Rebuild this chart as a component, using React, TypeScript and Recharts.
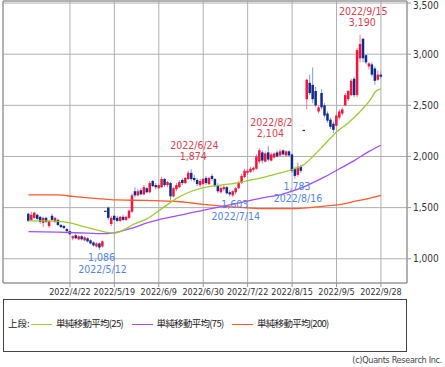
import { ComposedChart, Bar, Line, XAxis, YAxis, CartesianGrid, ReferenceDot, ReferenceArea } from "recharts"

const dates = [
  "2022/4/4", "2022/4/5", "2022/4/6", "2022/4/7", "2022/4/8", "2022/4/11", "2022/4/12", "2022/4/13", "2022/4/14", "2022/4/15",
  "2022/4/18", "2022/4/19", "2022/4/20", "2022/4/21", "2022/4/22", "2022/4/25", "2022/4/26", "2022/4/27", "2022/4/28", "2022/5/2",
  "2022/5/6", "2022/5/9", "2022/5/10", "2022/5/11", "2022/5/12", "2022/5/13", "2022/5/16", "2022/5/17", "2022/5/18", "2022/5/19",
  "2022/5/20", "2022/5/23", "2022/5/24", "2022/5/25", "2022/5/26", "2022/5/27", "2022/5/30", "2022/5/31", "2022/6/1", "2022/6/2",
  "2022/6/3", "2022/6/6", "2022/6/7", "2022/6/8", "2022/6/9", "2022/6/10", "2022/6/13", "2022/6/14", "2022/6/15", "2022/6/16",
  "2022/6/17", "2022/6/20", "2022/6/21", "2022/6/22", "2022/6/23", "2022/6/24", "2022/6/27", "2022/6/28", "2022/6/29", "2022/6/30",
  "2022/7/1", "2022/7/4", "2022/7/5", "2022/7/6", "2022/7/7", "2022/7/8", "2022/7/11", "2022/7/12", "2022/7/13", "2022/7/14",
  "2022/7/15", "2022/7/19", "2022/7/20", "2022/7/21", "2022/7/22", "2022/7/25", "2022/7/26", "2022/7/27", "2022/7/28", "2022/7/29",
  "2022/8/1", "2022/8/2", "2022/8/3", "2022/8/4", "2022/8/5", "2022/8/8", "2022/8/9", "2022/8/10", "2022/8/12", "2022/8/15",
  "2022/8/16", "2022/8/17", "2022/8/18", "2022/8/19", "2022/8/22", "2022/8/23", "2022/8/24", "2022/8/25", "2022/8/26", "2022/8/29",
  "2022/8/30", "2022/8/31", "2022/9/1", "2022/9/2", "2022/9/5", "2022/9/6", "2022/9/7", "2022/9/8", "2022/9/9", "2022/9/12",
  "2022/9/13", "2022/9/14", "2022/9/15", "2022/9/16", "2022/9/20", "2022/9/21", "2022/9/22", "2022/9/26", "2022/9/27", "2022/9/28",
]

const opens = [
  1440, 1380, 1400, 1430, 1410, 1350, 1400, 1320, 1420, 1360,
  1380, 1330, 1320, 1290, 1270, 1200, 1230, 1190, 1220, 1180,
  1200, 1180, 1160, 1120, 1150, 1120, 1470, 1500, 1340, 1420,
  1400, 1370, 1410, 1380, 1400, 1460, 1660, 1620, 1670, 1630,
  1690, 1650, 1760, 1720, 1690, 1700, 1780, 1720, 1740, 1610,
  1680, 1700, 1770, 1740, 1780, 1840, 1790, 1770, 1720, 1730,
  1790, 1730, 1810, 1780, 1720, 1650, 1680, 1700, 1650, 1620,
  1650, 1690, 1740, 1800, 1840, 1850, 1870, 1880, 1950, 2040,
  1950, 2040, 1960, 1990, 2040, 2010, 2060, 2010, 2050, 2020,
  1880, 1820, 1900, 2260, 2560, 2720, 2700, 2640, 2440, 2620,
  2500, 2420, 2360, 2320, 2300, 2380, 2420, 2500, 2560, 2600,
  2760, 2600, 2960, 3150, 2990, 2880, 2900, 2860, 2750, 2800,
]
const highs = [
  1450, 1460, 1460, 1440, 1420, 1410, 1410, 1380, 1440, 1410,
  1390, 1340, 1330, 1300, 1280, 1230, 1240, 1230, 1230, 1220,
  1210, 1190, 1170, 1160, 1160, 1180, 1470, 1510, 1420, 1430,
  1420, 1420, 1430, 1420, 1480, 1640, 1700, 1680, 1690, 1720,
  1700, 1760, 1770, 1740, 1730, 1800, 1790, 1760, 1750, 1700,
  1740, 1770, 1790, 1800, 1860, 1874, 1820, 1790, 1780, 1790,
  1810, 1800, 1830, 1790, 1740, 1710, 1720, 1710, 1670, 1670,
  1700, 1760, 1830, 1880, 1880, 1900, 1900, 2020, 2080, 2060,
  2050, 2104, 2040, 2040, 2060, 2070, 2070, 2060, 2060, 2030,
  1900, 1940, 1920, 2260, 2760, 2800, 2870, 2680, 2500, 2660,
  2520, 2440, 2380, 2340, 2420, 2460, 2480, 2620, 2650, 2760,
  2780, 3060, 3190, 3160, 3000, 2920, 2920, 2880, 2840, 2830,
]
const lows = [
  1360, 1370, 1390, 1380, 1340, 1310, 1350, 1300, 1370, 1350,
  1320, 1300, 1290, 1260, 1230, 1180, 1190, 1180, 1180, 1170,
  1160, 1140, 1120, 1110, 1086, 1110, 1470, 1380, 1320, 1370,
  1360, 1360, 1370, 1370, 1390, 1450, 1600, 1610, 1620, 1620,
  1640, 1640, 1700, 1680, 1680, 1690, 1700, 1700, 1570, 1600,
  1660, 1690, 1720, 1730, 1770, 1760, 1750, 1710, 1700, 1720,
  1720, 1720, 1760, 1700, 1640, 1640, 1660, 1630, 1610, 1603,
  1630, 1680, 1730, 1790, 1820, 1840, 1850, 1870, 1930, 1930,
  1940, 1950, 1950, 1980, 1990, 2000, 2010, 2000, 2000, 1840,
  1783, 1800, 1840, 2260, 2460, 2600, 2520, 2480, 2420, 2460,
  2380, 2330, 2270, 2230, 2290, 2360, 2400, 2490, 2540, 2590,
  2580, 2580, 2920, 2920, 2900, 2850, 2780, 2700, 2740, 2760,
]
const closes = [
  1370, 1430, 1450, 1390, 1360, 1400, 1360, 1370, 1380, 1400,
  1330, 1310, 1300, 1270, 1240, 1220, 1200, 1220, 1190, 1210,
  1170, 1150, 1130, 1150, 1110, 1170, 1470, 1400, 1400, 1380,
  1370, 1410, 1380, 1410, 1470, 1620, 1620, 1660, 1630, 1700,
  1650, 1740, 1710, 1700, 1720, 1780, 1720, 1750, 1610, 1690,
  1720, 1750, 1740, 1790, 1840, 1780, 1770, 1730, 1760, 1780,
  1740, 1790, 1780, 1710, 1660, 1690, 1700, 1640, 1630, 1660,
  1690, 1740, 1810, 1860, 1860, 1880, 1890, 2000, 2060, 1960,
  2030, 1970, 2020, 2030, 2000, 2050, 2020, 2050, 2010, 1860,
  1810, 1900, 1860, 2260, 2750, 2620, 2560, 2500, 2480, 2480,
  2400, 2350, 2290, 2260, 2400, 2440, 2460, 2600, 2640, 2740,
  2600, 3040, 3100, 2960, 2920, 2910, 2800, 2740, 2800, 2780,
]

// moving averages at a few days each: [day index, value]
const ma25Points: [number, number][] = [
  [0, 1370], [5, 1370], [10, 1365], [14, 1350], [18, 1320], [22, 1290], [26, 1260], [29, 1250],
  [32, 1280], [35, 1330], [40, 1390], [45, 1490], [50, 1590], [55, 1660], [60, 1700], [65, 1720],
  [70, 1740], [75, 1770], [80, 1800], [85, 1840], [90, 1880], [93, 1920], [96, 2000], [100, 2120],
  [104, 2240], [108, 2330], [112, 2440], [116, 2580], [117, 2630], [119, 2660],
]
const ma75Points: [number, number][] = [
  [0, 1265], [10, 1260], [20, 1250], [26, 1245], [30, 1260], [35, 1300], [40, 1350], [45, 1390],
  [50, 1420], [55, 1450], [60, 1480], [65, 1510], [70, 1540], [75, 1570], [80, 1600], [85, 1625],
  [90, 1670], [95, 1730], [100, 1800], [105, 1880], [110, 1960], [115, 2050], [119, 2110],
]
const ma200Points: [number, number][] = [
  [0, 1625], [10, 1625], [15, 1610], [20, 1595], [25, 1585], [30, 1575], [40, 1570], [50, 1560],
  [55, 1545], [60, 1530], [65, 1515], [70, 1505], [75, 1495], [80, 1490], [90, 1490], [95, 1500],
  [100, 1515], [105, 1530], [110, 1560], [115, 1590], [119, 1620],
]

const xTicks = [14, 29, 44, 59, 74, 89, 104, 119]
const yTicks = [1000, 1500, 2000, 2500, 3000, 3500]

const peakIdx = [55, 81, 112]
const troughIdx = [24, 69, 90]

const FONT = '"Liberation Sans Narrow", "DejaVu Sans Condensed", sans-serif'
const RED = "#e0404c"
const BLUE = "#4f86ec"

const ma25 = new Map(ma25Points)
const ma75 = new Map(ma75Points)
const ma200 = new Map(ma200Points)

const rows = dates.map((date, i) => ({
  i,
  date,
  open: opens[i],
  high: highs[i],
  low: lows[i],
  close: closes[i],
  range: [lows[i], highs[i]],
  ma25: ma25.get(i) ?? null,
  ma75: ma75.get(i) ?? null,
  ma200: ma200.get(i) ?? null,
}))

function Candle(props: any) {
  const { x, y, width, height, payload } = props
  const { open, high, low, close } = payload
  const cx = x + width / 2
  const span = high - low
  const py = (v: number) => (span === 0 ? y : y + ((high - v) / span) * height)
  // a one-price day (limit up) is drawn as a small dark dash
  const up = span > 0 && close >= open
  const top = py(Math.max(open, close))
  const bot = py(Math.min(open, close))
  const body = up ? "#f5143c" : "#102a8e"
  const wick = up ? "#f5788a" : "#7f9ce2"
  return (
    <g>
      {span > 0 && <line x1={cx} x2={cx} y1={y} y2={y + height} stroke={wick} strokeWidth={1} />}
      <rect x={cx - 1.25} y={top} width={2.5} height={Math.max(bot - top, 1.2)} fill={body} />
    </g>
  )
}

const fmt = (v: number) => v.toLocaleString("en-US")

function YTick({ x, y, payload }: any) {
  return (
    <text x={x} y={Math.max(y, 5)} dy="0.355em" fontSize={10} fill="#333" fontFamily={FONT}>
      {fmt(payload.value)}
    </text>
  )
}

function Note({ cx, cy, date, value, below, color }: any) {
  const style = { fontSize: 10.5, fill: color, fontFamily: FONT }
  if (below) {
    return (
      <g>
        <text x={cx + 2} y={cy + 11} textAnchor="middle" style={style}>{value}</text>
        <text x={cx + 3} y={cy + 23} textAnchor="middle" style={style}>{date}</text>
      </g>
    )
  }
  return (
    <g>
      <text x={cx + 3} y={cy - 20} textAnchor="middle" style={style}>{date}</text>
      <text x={cx + 2} y={cy - 9} textAnchor="middle" style={style}>{value}</text>
    </g>
  )
}

const legendItems = [
  { label: "単純移動平均(25)", color: "#9acd32" },
  { label: "単純移動平均(75)", color: "#a64dff" },
  { label: "単純移動平均(200)", color: "#ff5a2a" },
]

export default function App() {
  return (
    <div style={{ position: "absolute", left: 0, top: 0, width: 445, height: 367, background: "#fff", fontFamily: FONT }}>
      <ComposedChart width={445} height={300} data={rows} margin={{ top: 1, right: 0, left: 3, bottom: 0 }}>
        <CartesianGrid stroke="#b0b0b0" />
        <XAxis
          dataKey="i"
          type="number"
          domain={[-8.6, 127.8]}
          ticks={xTicks}
          interval={0}
          tickFormatter={(v) => dates[v]}
          tick={{ fontSize: 9, fill: "#333" }}
          tickLine={{ stroke: "#999" }}
          tickSize={4}
          axisLine={false}
          height={17}
        />
        <YAxis
          orientation="right"
          type="number"
          domain={[763, 3520]}
          ticks={yTicks}
          interval={0}
          tick={<YTick />}
          tickLine={{ stroke: "#999" }}
          tickSize={4}
          axisLine={false}
          width={38}
        />
        <ReferenceArea x1={-8.6} x2={127.8} y1={763} y2={3520} fill="none" stroke="#8c8c8c" ifOverflow="visible" />
        <Bar dataKey="range" barSize={3} shape={<Candle />} isAnimationActive={false} />
        <Line dataKey="ma200" type="monotone" stroke="#ff5a2a" strokeWidth={1.3} dot={false} connectNulls isAnimationActive={false} />
        <Line dataKey="ma75" type="monotone" stroke="#a64dff" strokeWidth={1.3} dot={false} connectNulls isAnimationActive={false} />
        <Line dataKey="ma25" type="monotone" stroke="#9acd32" strokeWidth={1.3} dot={false} connectNulls isAnimationActive={false} />
        {peakIdx.map((i) => (
          <ReferenceDot
            key={"p" + i}
            x={i}
            y={highs[i]}
            r={0}
            ifOverflow="visible"
            shape={(p: any) => <Note cx={p.cx} cy={p.cy} date={dates[i]} value={fmt(highs[i])} color={RED} />}
          />
        ))}
        {troughIdx.map((i) => (
          <ReferenceDot
            key={"t" + i}
            x={i}
            y={lows[i]}
            r={0}
            ifOverflow="visible"
            shape={(p: any) => <Note cx={p.cx} cy={p.cy} date={dates[i]} value={fmt(lows[i])} below color={BLUE} />}
          />
        ))}
      </ComposedChart>
      <div
        style={{
          position: "absolute",
          left: 3,
          top: 299,
          width: 402,
          height: 51,
          border: "1px solid #444",
          fontFamily: '"Noto Sans CJK JP", sans-serif',
          fontSize: 9.5,
          color: "#222",
        }}
      >
        <span style={{ position: "absolute", left: 4, top: 16 }}>上段:</span>
        {legendItems.map((it, k) => (
          <div key={it.label} style={{ position: "absolute", left: 27 + k * 100.5, top: 16, whiteSpace: "nowrap" }}>
            <span style={{ display: "inline-block", width: 21, height: 0, borderTop: `1.5px solid ${it.color}`, verticalAlign: "middle", marginRight: 4 }} />
            <span style={{ letterSpacing: -0.7 }}>{it.label}</span>
          </div>
        ))}
      </div>
      <div style={{ position: "absolute", right: 3, top: 355, fontSize: 9, color: "#444", letterSpacing: -0.3 }}>(c)Quants Research Inc.</div>
    </div>
  )
}
